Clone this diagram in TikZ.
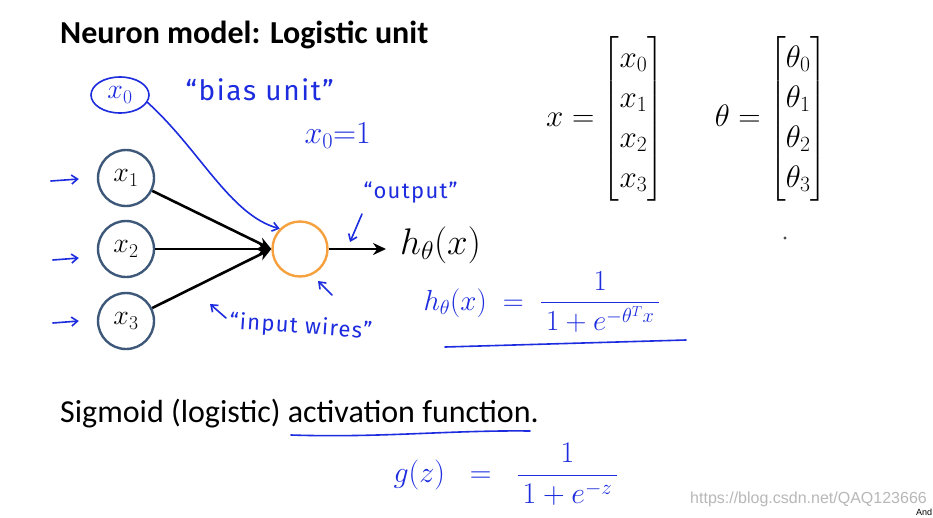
\documentclass[tikz,border=0pt]{standalone}
\usepackage{fix-cm}
\usepackage{amsmath}
\usepackage[no-math]{fontspec}
\setmainfont{Carlito}
\newfontfamily\hand[LetterSpace=6]{Fira Sans}
\newfontfamily\wm{Liberation Sans}
\usetikzlibrary{arrows.meta,shapes.geometric}
\definecolor{pen}{RGB}{28,44,222}
\definecolor{nodeedge}{RGB}{62,88,122}
\definecolor{orng}{RGB}{246,160,62}
\tikzset{
  inp/.style={circle, draw=nodeedge, line width=2.4pt, minimum size=56pt, inner sep=0pt, fill=white, font=\fontsize{28}{30}\selectfont},
  wire/.style={line width=2.6pt, black, -{Stealth[length=13pt,width=12pt]}},
  penline/.style={pen, line width=1.6pt, line cap=round, line join=round},
  penarrow/.style={penline, -{Straight Barb[length=6pt,width=9pt]}},
  handtext/.style={text=pen, font=\hand\fontsize{#1}{#1}\selectfont},
  mathbig/.style={font=\fontsize{31}{40}\selectfont},
}
\begin{document}
\begin{tikzpicture}[x=1pt,y=-1pt]
\useasboundingbox (0,0) rectangle (933,517);
\fill[white] (0,0) rectangle (933,517);

% title
\node[anchor=base west, inner sep=0pt, font=\fontsize{32}{36}\selectfont\bfseries] (title) at (60,43) {Neuron model: Logistic unit};

% bias unit
\node[ellipse, draw=pen, line width=1.6pt, minimum width=58pt, minimum height=36pt, inner sep=0pt, text=pen, font=\fontsize{28}{30}\selectfont] (x0) at (120,95) {$x_0$};
\node[handtext=28, anchor=west] (biaslbl) at (182,90) {“bias unit”};
\node[text=pen, font=\fontsize{32}{34}\selectfont, anchor=west] (x0eq) at (301,136) {$x_0{=}1$};

% inputs
\node[inp] (x1) at (126,178) {$x_1$};
\node[inp] (x2) at (126,249) {$x_2$};
\node[inp] (x3) at (126,321) {$x_3$};

% logistic unit
\node[circle, draw=orng, line width=2.4pt, minimum size=55pt, inner sep=0pt] (unit) at (300,249) {};

\draw[wire] (x1) -- (unit.west);
\draw[wire] (x2) -- (unit.west);
\draw[wire] (x3) -- (unit.west);

\node[anchor=west, inner sep=0pt, font=\fontsize{37}{40}\selectfont] (hout) at (400,245) {$h_\theta(x)$};
\coordinate (outend) at (386,249);
\draw[wire] (unit.east) -- (outend);

% bias wire
\draw[penarrow] (x0.-15) .. controls (200,150) and (230,215) .. (unit.north west);

% small input arrows
\draw[penarrow] ([shift={(-46,3)}]x1.west) -- ([shift={(-18,1)}]x1.west);
\draw[penarrow] ([shift={(-44,11)}]x2.west) -- ([shift={(-18,9)}]x2.west);
\draw[penarrow] ([shift={(-44,2)}]x3.west) -- ([shift={(-18,0)}]x3.west);

% output label
\node[handtext=22, anchor=west] (outlbl) at (360,193) {“output”};
\coordinate (oa) at (362,214);
\coordinate (ob) at (350,242);
\draw[penarrow] (oa) -- (ob);

% input wires label
\node[handtext=22, anchor=west, rotate=-4] (inlbl) at (226,322) {“input wires”};
\coordinate (ia) at (226,318);
\coordinate (ib) at (210,304);
\draw[penarrow] (ia) -- (ib);
\coordinate (ua) at (332,295);
\coordinate (ub) at (318,281);
\draw[penarrow] (ua) -- (ub);

% hypothesis formula
\node[text=pen, anchor=west, font=\fontsize{29}{32}\selectfont] (hform) at (420,302) {$h_\theta(x)\;=\;\dfrac{1}{\,1+e^{-\theta^T x}\,}$};
\coordinate (ul1a) at (445,347);
\coordinate (ul1b) at (686,340);
\draw[penline] (ul1a) -- (ul1b);

% vectors
\node[mathbig] (xvec) at (605,119) {$x=\begin{bmatrix} x_0\\ x_1\\ x_2\\ x_3\end{bmatrix}$};
\node[mathbig] (tvec) at (771,119) {$\theta=\begin{bmatrix} \theta_0\\ \theta_1\\ \theta_2\\ \theta_3\end{bmatrix}$};
\fill[black!70] (785,238) circle (1.6pt);

% sigmoid
\node[anchor=base west, inner sep=0pt, font=\fontsize{32}{36}\selectfont] (sig) at (60,422) {Sigmoid (logistic) activation function.};
\coordinate (ul2a) at (291,435);
\coordinate (ul2b) at (530,431);
\draw[penline] (ul2a) .. controls (380,438) and (450,430) .. (ul2b);

\node[text=pen, anchor=west, font=\fontsize{30}{32}\selectfont] (gform) at (390,474) {$g(z)\;\;=\;\;\dfrac{1}{\,1+e^{-z}\,}$};

% watermark
\node[anchor=base west, inner sep=0pt, text=black!28, font=\wm\fontsize{16}{18}\selectfont] (wmark) at (690,503) {https://blog.csdn.net/QAQ123666};
\node[anchor=base west, inner sep=0pt, font=\wm\fontsize{9}{10}\selectfont] (andr) at (916,515) {And};
\end{tikzpicture}
\end{document}
